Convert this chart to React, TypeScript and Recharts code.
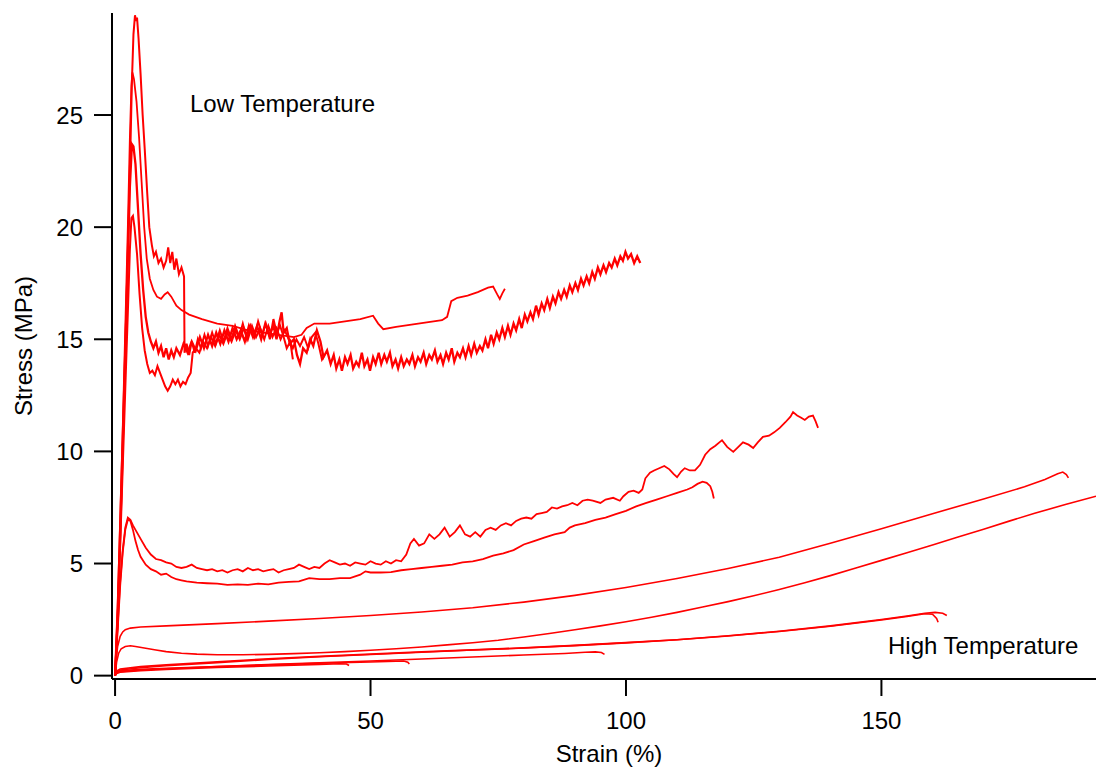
import { LineChart, Line, XAxis, YAxis } from 'recharts';

type Pt = [number, number];

// low temperature runs
const lowA: Pt[] = [
  [0, 0], [0.5, 2.5], [1, 6], [1.5, 10], [2, 14.5], [2.5, 19], [3, 23.5], [3.3, 26.5], [3.6, 28.6], [3.9, 29.45],
  [4.1, 29.2], [4.3, 29.35], [4.6, 28.4], [5, 26.8], [5.4, 25], [5.8, 23.5], [6.3, 21.5], [6.7, 20], [7.2, 19.2],
  [7.6, 18.7], [8, 18.9], [8.5, 18.4], [9, 18.6], [9.5, 18.2], [10, 18.5], [10.4, 19.1], [10.8, 18.4], [11.2, 18.9],
  [11.6, 18.1], [12, 18.6], [12.5, 17.9], [13, 18.2], [13.5, 17.8], [13.6, 14.4], [14, 14.8], [14.5, 14.3], [15, 14.9],
  [15.6, 14.4], [16.2, 15.0], [16.8, 14.6], [17.5, 15.2], [18.2, 14.7], [19, 15.3], [19.7, 14.8], [20.5, 15.4],
  [21.2, 14.9], [22, 15.5], [22.8, 15.0], [23.5, 15.6], [24.3, 15.1], [25, 15.7], [25.8, 15.0], [26.5, 15.6],
  [27.3, 15.1], [28, 15.8], [28.8, 15.2], [29.5, 15.7], [30.3, 15.0], [31, 15.9], [31.6, 15.3], [32.3, 15.6],
  [33, 15.1], [33.6, 14.6], [34.3, 14.9], [34.8, 14.1],
];

const lowB: Pt[] = [
  [0, 0], [0.5, 3], [1, 7], [1.5, 11], [2, 15.5], [2.5, 20], [2.9, 24], [3.2, 26.3], [3.4, 26.9], [3.7, 26.6],
  [4.2, 25.6], [4.7, 24], [5.2, 22], [5.7, 20], [6.2, 18.6], [6.8, 17.7], [7.5, 17.2], [8.2, 16.9], [9, 16.8],
  [9.7, 17.0], [10.3, 17.1], [11, 16.9], [12, 16.5], [13, 16.3], [14.5, 16.1], [17, 15.9], [20, 15.7], [23, 15.6],
  [26, 15.4], [29, 15.3], [32, 15.2], [35, 15.1], [36.5, 15.2], [37.5, 15.5], [39, 15.7], [42, 15.7], [45, 15.8],
  [48, 15.9], [50.5, 16.05], [51.5, 15.7], [52.5, 15.45], [55, 15.55], [58, 15.65], [61, 15.75], [64, 15.85],
  [65, 16.0], [65.8, 16.7], [67, 16.85], [69, 16.95], [71, 17.1], [73, 17.3], [74, 17.35], [74.8, 17.0],
  [75.3, 16.8], [75.8, 17.05], [76.3, 17.25],
];

const lowC: Pt[] = [
  [0, 0], [0.5, 2.8], [1, 6.5], [1.5, 10.5], [2, 14.5], [2.5, 18.5], [2.9, 21.8], [3.3, 23.7], [3.6, 23.6], [4, 22.8],
  [4.5, 20.8], [5, 18.8], [5.5, 17.2], [6, 16.0], [6.5, 15.3], [7, 14.9], [7.5, 14.6], [8, 14.9], [8.5, 14.4],
  [9, 14.7], [9.5, 14.2], [10, 14.6], [10.5, 14.1], [11, 14.5], [11.5, 14.2], [12, 14.6], [12.7, 14.3], [13.4, 14.8],
  [14.2, 14.4], [15, 14.9], [15.8, 14.5], [16.6, 15.1], [17.4, 14.6], [18.2, 15.2], [19, 14.7], [19.8, 15.3],
  [20.6, 14.8], [21.4, 15.4], [22.2, 14.9], [23, 15.5], [23.8, 15.0], [24.6, 15.4], [25.4, 14.9], [26.2, 15.6],
  [27, 15.1], [27.8, 15.6], [28.6, 15.0], [29.4, 15.7], [30.2, 15.2], [31, 15.6], [31.6, 15.0], [32.2, 15.8],
  [32.6, 16.2], [33, 15.3], [33.6, 15.5], [34.2, 14.8], [35, 15.0], [35.6, 14.3], [36.2, 13.9], [36.8, 14.6],
  [37.5, 14.4], [38.2, 15.0], [38.8, 14.7], [39.5, 15.4], [40.2, 14.9], [40.8, 14.2], [41.5, 14.5],
  [42.2, 13.9], [42.8, 14.3], [43.3, 13.7], [43.9, 14.1], [44.4, 13.6], [45, 14.2], [45.5, 13.9], [46.1, 14.3],
  [46.6, 13.7], [47.2, 14.0], [47.7, 13.8], [48.3, 14.4], [48.8, 13.8], [49.4, 14.1], [49.9, 13.6], [50.5, 14.2],
  [51, 13.9], [51.6, 14.4], [52.1, 13.9], [52.7, 14.3], [53.2, 14.0], [53.8, 14.4], [54.3, 13.8], [54.9, 14.1],
  [55.4, 13.7], [56, 14.2], [56.5, 13.8], [57.1, 14.1], [57.6, 13.9], [58.2, 14.3], [58.7, 13.8], [59.3, 14.2],
  [59.8, 14.0], [60.4, 14.4], [60.9, 13.9], [61.5, 14.3], [62, 14.1], [62.6, 14.5], [63.1, 14.0], [63.7, 14.3],
  [64.2, 13.9], [64.8, 14.4], [65.3, 14.1], [65.9, 14.6], [66.4, 14.0], [67, 14.4], [67.5, 14.2], [68.1, 14.6],
  [68.6, 14.2], [69.2, 14.7], [69.7, 14.3], [70.3, 14.8], [70.8, 14.4], [71.4, 14.7], [71.9, 14.5], [72.5, 15.0],
  [73, 14.6], [73.6, 15.2], [74.1, 14.8], [74.7, 15.3], [75.2, 15.0], [75.8, 15.5], [76.3, 15.1], [76.9, 15.6],
  [77.4, 15.2], [78, 15.7], [78.5, 15.4], [79.1, 15.9], [79.6, 15.5], [80.2, 16.1], [80.7, 15.8], [81.3, 16.2],
  [81.8, 15.9], [82.4, 16.5], [82.9, 16.1], [83.5, 16.6], [84, 16.3], [84.6, 16.8], [85.1, 16.4], [85.7, 16.9],
  [86.2, 16.6], [86.8, 17.1], [87.3, 16.8], [87.9, 17.2], [88.4, 16.9], [89, 17.4], [89.5, 17.1], [90.1, 17.5],
  [90.6, 17.2], [91.2, 17.7], [91.7, 17.4], [92.3, 17.8], [92.8, 17.5], [93.4, 18.0], [93.9, 17.7], [94.5, 18.2],
  [95, 17.9], [95.6, 18.3], [96.1, 18.0], [96.7, 18.4], [97.2, 18.2], [97.8, 18.6], [98.3, 18.3], [98.9, 18.7],
  [99.4, 18.5], [99.9, 18.9], [100.4, 18.6], [101, 18.8], [101.6, 18.4], [102.2, 18.7], [102.8, 18.4],
];

const lowD: Pt[] = [
  [0, 0], [0.5, 2.5], [1, 5.8], [1.5, 9.3], [2, 12.8], [2.5, 16.2], [2.9, 19], [3.2, 20.4], [3.5, 20.5], [3.8, 20.0],
  [4.3, 18.8], [4.8, 17.0], [5.3, 15.5], [5.8, 14.5], [6.3, 13.9], [6.8, 13.5], [7.3, 13.6], [7.8, 13.4],
  [8.3, 13.8], [8.8, 13.5], [9.3, 13.2], [9.8, 12.9], [10.3, 12.7], [10.8, 12.9], [11.3, 13.2], [11.8, 13.0],
  [12.3, 13.2], [12.8, 12.9], [13.3, 13.1], [13.8, 13.0], [14.3, 13.3], [14.8, 13.5], [15.2, 14.4], [15.8, 14.6],
  [16.5, 14.4], [17.2, 14.9], [18, 14.6], [18.8, 15.1], [19.6, 14.7], [20.4, 15.2], [21.2, 14.8], [22, 15.3],
  [22.8, 14.9], [23.6, 15.4], [24.4, 15.0], [25.2, 15.5], [26, 15.0], [26.8, 15.6], [27.6, 15.1], [28.4, 15.5],
  [29.2, 15.0], [30, 15.6], [30.8, 15.1], [31.6, 15.5], [32.4, 15.0], [33.2, 15.4], [34, 15.0], [34.8, 14.6],
  [35.5, 15.0], [36.2, 14.7], [37, 15.1], [37.8, 14.6], [38.5, 15.1], [39.2, 15.3], [39.8, 14.8], [40.5, 14.1],
  [41, 14.3],
];

// intermediate runs
const midA: Pt[] = [
  [0, 0], [0.5, 2.2], [1, 4.2], [1.5, 5.6], [2, 6.6], [2.5, 7.05], [3, 6.95], [3.5, 6.7], [4, 6.5], [5, 6.1],
  [6, 5.7], [7, 5.4], [8, 5.2], [9, 5.15], [10, 5.05], [11, 5.0], [12, 4.85], [13, 4.8], [14, 4.85], [15, 4.95],
  [16, 4.8], [17, 4.75], [18, 4.7], [19, 4.75], [20, 4.65], [21, 4.7], [22, 4.6], [23, 4.7], [24, 4.75], [25, 4.65],
  [26, 4.8], [27, 4.7], [28, 4.75], [29, 4.65], [30, 4.7], [31, 4.75], [32, 4.6], [33, 4.7], [34, 4.75], [35, 4.8],
  [36, 4.95], [37, 4.85], [38, 4.75], [39, 4.85], [40, 4.8], [41, 5.0], [42, 5.15], [43, 5.05], [44, 4.95],
  [45, 5.0], [46, 4.9], [47, 5.05], [48, 5.0], [49, 4.95], [50, 5.1], [51, 5.0], [52, 4.95], [53, 5.1], [54, 5.0],
  [55, 5.15], [56, 5.1], [57, 5.4], [57.8, 5.9], [58.5, 6.1], [59.5, 5.8], [60.5, 5.9], [61.5, 6.3], [62.5, 6.1],
  [63.5, 6.3], [64.5, 6.6], [65.5, 6.2], [66.5, 6.4], [67.5, 6.7], [68.5, 6.3], [69.5, 6.2], [70.5, 6.4],
  [71.5, 6.2], [72.5, 6.5], [73.5, 6.6], [74.5, 6.5], [75.5, 6.7], [76.5, 6.8], [77.5, 6.7], [78.5, 6.9],
  [79.5, 7.0], [80.5, 7.05], [81.5, 7.0], [82.5, 7.2], [83.5, 7.25], [84.5, 7.3], [85.5, 7.5], [86.5, 7.45],
  [87.5, 7.55], [88.5, 7.6], [89.5, 7.7], [90.5, 7.6], [91.5, 7.8], [92.5, 7.85], [93.5, 7.8], [95, 7.7],
  [96, 7.85], [97.5, 7.93], [98.8, 7.8], [99.5, 8.0], [100.5, 8.2], [101.5, 8.25], [102.5, 8.15], [103.2, 8.3],
  [103.8, 8.8], [104.7, 9.05], [105.5, 9.15], [106.5, 9.25], [107.5, 9.35], [108.5, 9.2], [109.3, 9.0], [110, 8.85],
  [110.8, 9.1], [111.5, 9.25], [112.5, 9.15], [113.5, 9.15], [114.5, 9.4], [115.5, 9.85], [116.5, 10.1],
  [117.5, 10.25], [118.8, 10.5], [119.8, 10.2], [121, 9.98], [122, 10.2], [122.9, 10.4], [124, 10.3],
  [124.9, 10.15], [125.8, 10.4], [126.8, 10.65], [128, 10.7], [129, 10.85], [130.1, 11.05], [131.2, 11.3],
  [132.2, 11.55], [132.7, 11.75], [133.5, 11.6], [134.3, 11.5], [135, 11.4], [135.8, 11.55], [136.6, 11.6],
  [137.1, 11.35], [137.6, 11.05],
];

const midB: Pt[] = [
  [0, 0], [0.5, 2.0], [1, 4.0], [1.5, 5.5], [2, 6.5], [2.5, 6.95], [3, 6.9], [3.5, 6.5], [4, 6.0], [4.5, 5.6],
  [5, 5.3], [6, 4.95], [7, 4.75], [8, 4.65], [9, 4.5], [10, 4.55], [11, 4.4], [12, 4.3], [13, 4.25], [14, 4.2],
  [16, 4.15], [18, 4.12], [20, 4.1], [22, 4.05], [24, 4.07], [26, 4.05], [28, 4.1], [30, 4.07], [32, 4.15],
  [34, 4.18], [36, 4.2], [38, 4.35], [40, 4.3], [42, 4.3], [44, 4.35], [46, 4.35], [48, 4.5], [49, 4.65],
  [50, 4.6], [52, 4.6], [54, 4.62], [56, 4.7], [58, 4.75], [60, 4.8], [62, 4.85], [64, 4.9], [66, 4.95],
  [68, 5.05], [70, 5.1], [72, 5.2], [74, 5.35], [76, 5.45], [78, 5.6], [80, 5.85], [82, 6.0], [84, 6.15],
  [86, 6.3], [88, 6.4], [89, 6.6], [90, 6.7], [92, 6.8], [94, 6.95], [96, 7.05], [98, 7.2], [100, 7.35],
  [102, 7.55], [104, 7.7], [106, 7.85], [108, 8.0], [110, 8.15], [112, 8.3], [113, 8.4], [114, 8.55],
  [115, 8.65], [115.8, 8.6], [116.5, 8.45], [116.9, 8.2], [117.2, 7.9],
];

// high temperature runs
const highA: Pt[] = [
  [0, 0], [0.2, 0.7], [0.5, 1.3], [1, 1.75], [1.5, 1.95], [2, 2.05], [3, 2.12], [5, 2.17], [10, 2.22], [20, 2.32],
  [30, 2.43], [40, 2.55], [50, 2.68], [60, 2.84], [70, 3.03], [80, 3.28], [90, 3.58], [100, 3.93], [110, 4.33],
  [120, 4.78], [130, 5.28], [140, 5.9], [150, 6.55], [160, 7.22], [170, 7.88], [178, 8.42], [182, 8.75],
  [184.5, 9.0], [185.5, 9.08], [186.2, 8.97], [186.6, 8.82],
];

const highB: Pt[] = [
  [0, 0], [0.3, 0.6], [0.7, 1.0], [1.2, 1.2], [2, 1.3], [3, 1.33], [4, 1.3], [6, 1.22], [8, 1.14], [10, 1.07],
  [13, 1.0], [16, 0.96], [20, 0.93], [25, 0.93], [30, 0.95], [35, 0.98], [40, 1.02], [45, 1.07], [50, 1.13],
  [55, 1.2], [60, 1.28], [65, 1.37], [70, 1.47], [75, 1.58], [80, 1.72], [85, 1.88], [90, 2.05], [95, 2.22],
  [100, 2.4], [105, 2.6], [110, 2.82], [115, 3.06], [120, 3.3], [125, 3.56], [130, 3.84], [135, 4.14],
  [140, 4.46], [145, 4.8], [150, 5.14], [155, 5.48], [160, 5.83], [165, 6.18], [170, 6.53], [175, 6.89],
  [180, 7.24], [186, 7.63], [192, 8.0],
];

const highC: Pt[] = [
  [0, 0], [0.3, 0.2], [1, 0.3], [5, 0.4], [10, 0.48], [20, 0.62], [30, 0.75], [40, 0.86], [50, 0.96], [60, 1.06],
  [70, 1.15], [80, 1.24], [90, 1.35], [100, 1.47], [110, 1.6], [120, 1.78], [130, 1.98], [140, 2.22], [150, 2.5],
  [155, 2.66], [158.5, 2.78], [160.5, 2.82], [162, 2.78], [162.8, 2.68],
];

const highD: Pt[] = [
  [0, 0], [0.3, 0.15], [1, 0.25], [5, 0.35], [10, 0.44], [20, 0.58], [30, 0.72], [40, 0.84], [50, 0.94],
  [60, 1.04], [70, 1.14], [80, 1.23], [90, 1.34], [100, 1.46], [110, 1.6], [120, 1.77], [130, 1.97], [140, 2.2],
  [150, 2.48], [155, 2.64], [158.5, 2.76], [160, 2.74], [160.8, 2.55], [161.1, 2.38],
];

const highE: Pt[] = [
  [0, 0], [0.3, 0.15], [1, 0.22], [5, 0.28], [10, 0.33], [20, 0.41], [30, 0.49], [40, 0.57], [50, 0.65],
  [60, 0.74], [70, 0.83], [80, 0.92], [88, 0.99], [92, 1.04], [94, 1.06], [95.2, 1.03], [95.8, 0.95],
];

const highF: Pt[] = [
  [0, 0], [0.3, 0.1], [1, 0.15], [5, 0.22], [10, 0.28], [20, 0.36], [30, 0.43], [40, 0.5], [44, 0.53],
  [45.3, 0.52], [45.8, 0.45],
];

const highG: Pt[] = [
  [0, 0], [0.3, 0.12], [1, 0.18], [5, 0.25], [10, 0.31], [20, 0.4], [30, 0.48], [40, 0.55], [50, 0.61],
  [55, 0.64], [56.5, 0.65], [57.3, 0.6], [57.6, 0.52],
];

const xTicks = [0, 50, 100, 150];
const yTicks = [0, 5, 10, 15, 20, 25];

const curves: { pts: Pt[]; w: number }[] = [
  { pts: highA, w: 1.6 },
  { pts: highB, w: 1.6 },
  { pts: highC, w: 1.6 },
  { pts: highD, w: 1.6 },
  { pts: highE, w: 1.6 },
  { pts: highF, w: 1.6 },
  { pts: highG, w: 1.6 },
  { pts: midA, w: 1.8 },
  { pts: midB, w: 1.8 },
  { pts: lowB, w: 1.8 },
  { pts: lowD, w: 2 },
  { pts: lowA, w: 2 },
  { pts: lowC, w: 2.3 },
];

const FONT = '"Liberation Sans", Arial, sans-serif';
const RED = '#ff0000';

const toRows = (pts: Pt[]) => pts.map(([x, y]) => ({ x, y }));

const noteStyle = {
  position: 'absolute' as const,
  fontFamily: FONT,
  fontSize: 24,
  lineHeight: '24px',
  color: '#000',
  whiteSpace: 'nowrap' as const,
};

export default function App() {
  const tickStyle = { fill: '#000', fontSize: 24, fontFamily: FONT };
  return (
    <div style={{ position: 'absolute', left: 0, top: 0, width: 1096, height: 767, background: '#fff' }}>
      <LineChart width={1096} height={767} margin={{ top: 13, right: 0, bottom: 0, left: 0 }}>
        <XAxis
          type="number"
          dataKey="x"
          domain={[-0.6, 192]}
          ticks={xTicks}
          allowDataOverflow
          height={88}
          tick={tickStyle}
          tickSize={17}
          tickMargin={16}
          stroke="#000"
          axisLine={{ stroke: '#000', strokeWidth: 2 }}
          tickLine={{ stroke: '#000', strokeWidth: 2 }}
          label={{ value: 'Strain (%)', position: 'insideBottom', offset: 5, dx: 5, fill: '#000', fontSize: 24, fontFamily: FONT }}
        />
        <YAxis
          type="number"
          dataKey="y"
          domain={[-0.15, 29.55]}
          ticks={yTicks}
          allowDataOverflow
          width={112}
          tick={tickStyle}
          tickSize={18}
          tickMargin={11}
          stroke="#000"
          axisLine={{ stroke: '#000', strokeWidth: 2 }}
          tickLine={{ stroke: '#000', strokeWidth: 2 }}
          label={{
            value: 'Stress (MPa)',
            angle: -90,
            position: 'insideLeft',
            offset: 23,
            fill: '#000',
            fontSize: 24,
            fontFamily: FONT,
            style: { textAnchor: 'middle' },
          }}
        />
        {curves.map((c, i) => (
          <Line
            key={i}
            data={toRows(c.pts)}
            dataKey="y"
            type="linear"
            stroke={RED}
            strokeWidth={c.w}
            dot={false}
            activeDot={false}
            isAnimationActive={false}
          />
        ))}
      </LineChart>
      <div style={{ ...noteStyle, left: 190, top: 92 }}>Low Temperature</div>
      <div style={{ ...noteStyle, left: 888, top: 634 }}>High Temperature</div>
    </div>
  );
}
